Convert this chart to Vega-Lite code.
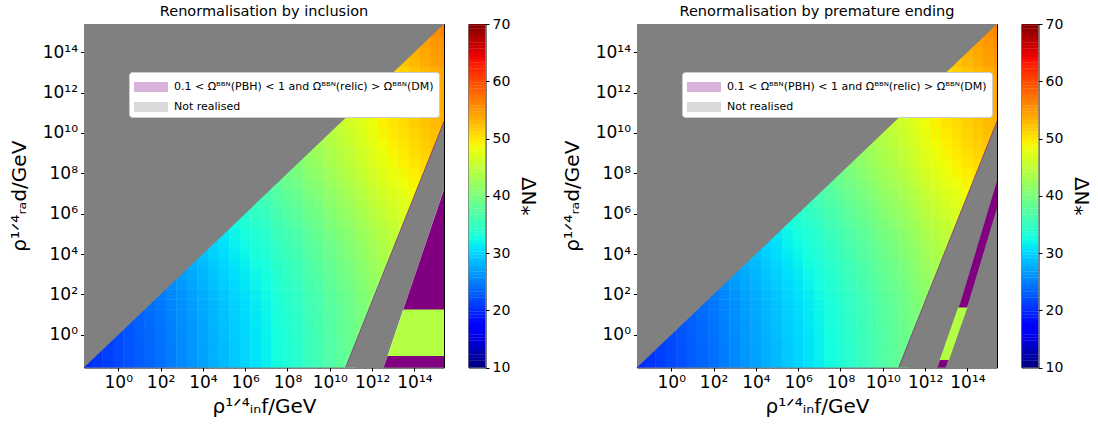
{
"$schema":"https://vega.github.io/schema/vega-lite/v6.json",
"background":"white",
"padding":{"left":8,"top":3,"right":5,"bottom":5},
"config":{"font":"DejaVu Sans","view":{"stroke":"#000000","strokeWidth":1},
"axis":{"grid":false,"domain":false,"ticks":true,"tickColor":"#000000","tickSize":3.5,"tickWidth":1,"labelColor":"#000000","titleColor":"#000000","labelFont":"DejaVu Sans","titleFont":"DejaVu Sans","labelFontSize":17,"titleFontSize":20,"titleFontWeight":"normal","labelPadding":3,"titlePadding":6},
"axisLeft":{"titlePadding":13},
"title":{"font":"DejaVu Sans","fontSize":14.5,"fontWeight":"normal","color":"#000000","offset":5}},
"datasets":{
"field":[
{"x":-1.5,"y":-1.5,"v":20},{"x":-1,"y":-1.5,"v":20.6},{"x":-0.5,"y":-1.5,"v":21.1},{"x":0,"y":-1.5,"v":21.7},{"x":0.5,"y":-1.5,"v":22.3},{"x":1,"y":-1.5,"v":22.9},{"x":1.5,"y":-1.5,"v":23.4},{"x":2,"y":-1.5,"v":24},{"x":2.5,"y":-1.5,"v":24.8},{"x":3,"y":-1.5,"v":25.5},{"x":3.5,"y":-1.5,"v":26.3},{"x":4,"y":-1.5,"v":27},{"x":4.5,"y":-1.5,"v":27.8},{"x":5,"y":-1.5,"v":28.5},{"x":5.5,"y":-1.5,"v":29.3},{"x":6,"y":-1.5,"v":30},{"x":6.5,"y":-1.5,"v":30.8},{"x":7,"y":-1.5,"v":31.5},{"x":7.5,"y":-1.5,"v":32.4},{"x":8,"y":-1.5,"v":33.3},{"x":8.5,"y":-1.5,"v":34.1},{"x":9,"y":-1.5,"v":35},{"x":9.5,"y":-1.5,"v":35.9},{"x":10,"y":-1.5,"v":36.8},{"x":10.5,"y":-1.5,"v":37.6},{"x":11,"y":-1.5,"v":38.5},
{"x":-1,"y":-1,"v":20.7},{"x":-0.5,"y":-1,"v":21.2},{"x":0,"y":-1,"v":21.8},{"x":0.5,"y":-1,"v":22.4},{"x":1,"y":-1,"v":23},{"x":1.5,"y":-1,"v":23.5},{"x":2,"y":-1,"v":24.1},{"x":2.5,"y":-1,"v":24.9},{"x":3,"y":-1,"v":25.6},{"x":3.5,"y":-1,"v":26.4},{"x":4,"y":-1,"v":27.1},{"x":4.5,"y":-1,"v":27.9},{"x":5,"y":-1,"v":28.6},{"x":5.5,"y":-1,"v":29.4},{"x":6,"y":-1,"v":30.1},{"x":6.5,"y":-1,"v":30.9},{"x":7,"y":-1,"v":31.6},{"x":7.5,"y":-1,"v":32.5},{"x":8,"y":-1,"v":33.4},{"x":8.5,"y":-1,"v":34.2},{"x":9,"y":-1,"v":35.1},{"x":9.5,"y":-1,"v":36},{"x":10,"y":-1,"v":36.9},{"x":10.5,"y":-1,"v":37.7},{"x":11,"y":-1,"v":38.6},
{"x":-0.5,"y":-0.5,"v":21.2},{"x":0,"y":-0.5,"v":21.8},{"x":0.5,"y":-0.5,"v":22.4},{"x":1,"y":-0.5,"v":23},{"x":1.5,"y":-0.5,"v":23.5},{"x":2,"y":-0.5,"v":24.1},{"x":2.5,"y":-0.5,"v":24.9},{"x":3,"y":-0.5,"v":25.6},{"x":3.5,"y":-0.5,"v":26.4},{"x":4,"y":-0.5,"v":27.1},{"x":4.5,"y":-0.5,"v":27.9},{"x":5,"y":-0.5,"v":28.6},{"x":5.5,"y":-0.5,"v":29.4},{"x":6,"y":-0.5,"v":30.1},{"x":6.5,"y":-0.5,"v":30.9},{"x":7,"y":-0.5,"v":31.6},{"x":7.5,"y":-0.5,"v":32.5},{"x":8,"y":-0.5,"v":33.4},{"x":8.5,"y":-0.5,"v":34.2},{"x":9,"y":-0.5,"v":35.1},{"x":9.5,"y":-0.5,"v":36},{"x":10,"y":-0.5,"v":36.9},{"x":10.5,"y":-0.5,"v":37.7},{"x":11,"y":-0.5,"v":38.6},{"x":11.5,"y":-0.5,"v":39.6},
{"x":0,"y":0,"v":21.9},{"x":0.5,"y":0,"v":22.5},{"x":1,"y":0,"v":23.1},{"x":1.5,"y":0,"v":23.6},{"x":2,"y":0,"v":24.2},{"x":2.5,"y":0,"v":25},{"x":3,"y":0,"v":25.7},{"x":3.5,"y":0,"v":26.5},{"x":4,"y":0,"v":27.2},{"x":4.5,"y":0,"v":28},{"x":5,"y":0,"v":28.7},{"x":5.5,"y":0,"v":29.5},{"x":6,"y":0,"v":30.2},{"x":6.5,"y":0,"v":31},{"x":7,"y":0,"v":31.7},{"x":7.5,"y":0,"v":32.6},{"x":8,"y":0,"v":33.5},{"x":8.5,"y":0,"v":34.3},{"x":9,"y":0,"v":35.2},{"x":9.5,"y":0,"v":36.1},{"x":10,"y":0,"v":37},{"x":10.5,"y":0,"v":37.8},{"x":11,"y":0,"v":38.7},{"x":11.5,"y":0,"v":39.7},
{"x":0.5,"y":0.5,"v":22.6},{"x":1,"y":0.5,"v":23.2},{"x":1.5,"y":0.5,"v":23.7},{"x":2,"y":0.5,"v":24.3},{"x":2.5,"y":0.5,"v":25.1},{"x":3,"y":0.5,"v":25.8},{"x":3.5,"y":0.5,"v":26.6},{"x":4,"y":0.5,"v":27.3},{"x":4.5,"y":0.5,"v":28.1},{"x":5,"y":0.5,"v":28.8},{"x":5.5,"y":0.5,"v":29.6},{"x":6,"y":0.5,"v":30.3},{"x":6.5,"y":0.5,"v":31.1},{"x":7,"y":0.5,"v":31.8},{"x":7.5,"y":0.5,"v":32.7},{"x":8,"y":0.5,"v":33.6},{"x":8.5,"y":0.5,"v":34.4},{"x":9,"y":0.5,"v":35.3},{"x":9.5,"y":0.5,"v":36.2},{"x":10,"y":0.5,"v":37.1},{"x":10.5,"y":0.5,"v":37.9},{"x":11,"y":0.5,"v":38.8},{"x":11.5,"y":0.5,"v":39.8},
{"x":1,"y":1,"v":23.3},{"x":1.5,"y":1,"v":23.8},{"x":2,"y":1,"v":24.4},{"x":2.5,"y":1,"v":25.2},{"x":3,"y":1,"v":25.9},{"x":3.5,"y":1,"v":26.7},{"x":4,"y":1,"v":27.4},{"x":4.5,"y":1,"v":28.2},{"x":5,"y":1,"v":28.9},{"x":5.5,"y":1,"v":29.7},{"x":6,"y":1,"v":30.4},{"x":6.5,"y":1,"v":31.2},{"x":7,"y":1,"v":31.9},{"x":7.5,"y":1,"v":32.8},{"x":8,"y":1,"v":33.7},{"x":8.5,"y":1,"v":34.5},{"x":9,"y":1,"v":35.4},{"x":9.5,"y":1,"v":36.3},{"x":10,"y":1,"v":37.2},{"x":10.5,"y":1,"v":38},{"x":11,"y":1,"v":38.9},{"x":11.5,"y":1,"v":39.9},{"x":12,"y":1,"v":40.9},
{"x":1.5,"y":1.5,"v":23.9},{"x":2,"y":1.5,"v":24.5},{"x":2.5,"y":1.5,"v":25.3},{"x":3,"y":1.5,"v":26},{"x":3.5,"y":1.5,"v":26.8},{"x":4,"y":1.5,"v":27.5},{"x":4.5,"y":1.5,"v":28.3},{"x":5,"y":1.5,"v":29},{"x":5.5,"y":1.5,"v":29.8},{"x":6,"y":1.5,"v":30.5},{"x":6.5,"y":1.5,"v":31.3},{"x":7,"y":1.5,"v":32},{"x":7.5,"y":1.5,"v":32.9},{"x":8,"y":1.5,"v":33.8},{"x":8.5,"y":1.5,"v":34.6},{"x":9,"y":1.5,"v":35.5},{"x":9.5,"y":1.5,"v":36.4},{"x":10,"y":1.5,"v":37.3},{"x":10.5,"y":1.5,"v":38.1},{"x":11,"y":1.5,"v":39},{"x":11.5,"y":1.5,"v":40},{"x":12,"y":1.5,"v":41},
{"x":2,"y":2,"v":24.7},{"x":2.5,"y":2,"v":25.5},{"x":3,"y":2,"v":26.2},{"x":3.5,"y":2,"v":27},{"x":4,"y":2,"v":27.7},{"x":4.5,"y":2,"v":28.5},{"x":5,"y":2,"v":29.2},{"x":5.5,"y":2,"v":30},{"x":6,"y":2,"v":30.7},{"x":6.5,"y":2,"v":31.5},{"x":7,"y":2,"v":32.2},{"x":7.5,"y":2,"v":33.1},{"x":8,"y":2,"v":34},{"x":8.5,"y":2,"v":34.8},{"x":9,"y":2,"v":35.7},{"x":9.5,"y":2,"v":36.6},{"x":10,"y":2,"v":37.5},{"x":10.5,"y":2,"v":38.3},{"x":11,"y":2,"v":39.2},{"x":11.5,"y":2,"v":40.2},{"x":12,"y":2,"v":41.2},
{"x":2.5,"y":2.5,"v":25.8},{"x":3,"y":2.5,"v":26.5},{"x":3.5,"y":2.5,"v":27.3},{"x":4,"y":2.5,"v":28},{"x":4.5,"y":2.5,"v":28.8},{"x":5,"y":2.5,"v":29.5},{"x":5.5,"y":2.5,"v":30.3},{"x":6,"y":2.5,"v":31},{"x":6.5,"y":2.5,"v":31.8},{"x":7,"y":2.5,"v":32.5},{"x":7.5,"y":2.5,"v":33.4},{"x":8,"y":2.5,"v":34.3},{"x":8.5,"y":2.5,"v":35.1},{"x":9,"y":2.5,"v":36},{"x":9.5,"y":2.5,"v":36.9},{"x":10,"y":2.5,"v":37.8},{"x":10.5,"y":2.5,"v":38.6},{"x":11,"y":2.5,"v":39.5},{"x":11.5,"y":2.5,"v":40.5},{"x":12,"y":2.5,"v":41.5},{"x":12.5,"y":2.5,"v":42.5},
{"x":3,"y":3,"v":26.8},{"x":3.5,"y":3,"v":27.6},{"x":4,"y":3,"v":28.3},{"x":4.5,"y":3,"v":29.1},{"x":5,"y":3,"v":29.8},{"x":5.5,"y":3,"v":30.6},{"x":6,"y":3,"v":31.3},{"x":6.5,"y":3,"v":32.1},{"x":7,"y":3,"v":32.8},{"x":7.5,"y":3,"v":33.7},{"x":8,"y":3,"v":34.6},{"x":8.5,"y":3,"v":35.4},{"x":9,"y":3,"v":36.3},{"x":9.5,"y":3,"v":37.2},{"x":10,"y":3,"v":38.1},{"x":10.5,"y":3,"v":38.9},{"x":11,"y":3,"v":39.8},{"x":11.5,"y":3,"v":40.8},{"x":12,"y":3,"v":41.8},{"x":12.5,"y":3,"v":42.8},
{"x":3.5,"y":3.5,"v":27.9},{"x":4,"y":3.5,"v":28.6},{"x":4.5,"y":3.5,"v":29.4},{"x":5,"y":3.5,"v":30.1},{"x":5.5,"y":3.5,"v":30.9},{"x":6,"y":3.5,"v":31.6},{"x":6.5,"y":3.5,"v":32.4},{"x":7,"y":3.5,"v":33.1},{"x":7.5,"y":3.5,"v":34},{"x":8,"y":3.5,"v":34.9},{"x":8.5,"y":3.5,"v":35.7},{"x":9,"y":3.5,"v":36.6},{"x":9.5,"y":3.5,"v":37.5},{"x":10,"y":3.5,"v":38.4},{"x":10.5,"y":3.5,"v":39.2},{"x":11,"y":3.5,"v":40.1},{"x":11.5,"y":3.5,"v":41.1},{"x":12,"y":3.5,"v":42.1},{"x":12.5,"y":3.5,"v":43.1},{"x":13,"y":3.5,"v":43.9},
{"x":4,"y":4,"v":29},{"x":4.5,"y":4,"v":29.8},{"x":5,"y":4,"v":30.5},{"x":5.5,"y":4,"v":31.3},{"x":6,"y":4,"v":32},{"x":6.5,"y":4,"v":32.8},{"x":7,"y":4,"v":33.5},{"x":7.5,"y":4,"v":34.4},{"x":8,"y":4,"v":35.3},{"x":8.5,"y":4,"v":36.1},{"x":9,"y":4,"v":37},{"x":9.5,"y":4,"v":37.9},{"x":10,"y":4,"v":38.8},{"x":10.5,"y":4,"v":39.6},{"x":11,"y":4,"v":40.5},{"x":11.5,"y":4,"v":41.5},{"x":12,"y":4,"v":42.5},{"x":12.5,"y":4,"v":43.5},{"x":13,"y":4,"v":44.3},
{"x":4.5,"y":4.5,"v":30.1},{"x":5,"y":4.5,"v":30.8},{"x":5.5,"y":4.5,"v":31.6},{"x":6,"y":4.5,"v":32.3},{"x":6.5,"y":4.5,"v":33.1},{"x":7,"y":4.5,"v":33.8},{"x":7.5,"y":4.5,"v":34.7},{"x":8,"y":4.5,"v":35.6},{"x":8.5,"y":4.5,"v":36.4},{"x":9,"y":4.5,"v":37.3},{"x":9.5,"y":4.5,"v":38.2},{"x":10,"y":4.5,"v":39.1},{"x":10.5,"y":4.5,"v":39.9},{"x":11,"y":4.5,"v":40.8},{"x":11.5,"y":4.5,"v":41.8},{"x":12,"y":4.5,"v":42.8},{"x":12.5,"y":4.5,"v":43.8},{"x":13,"y":4.5,"v":44.6},
{"x":5,"y":5,"v":31.2},{"x":5.5,"y":5,"v":32},{"x":6,"y":5,"v":32.7},{"x":6.5,"y":5,"v":33.5},{"x":7,"y":5,"v":34.2},{"x":7.5,"y":5,"v":35.1},{"x":8,"y":5,"v":36},{"x":8.5,"y":5,"v":36.8},{"x":9,"y":5,"v":37.7},{"x":9.5,"y":5,"v":38.6},{"x":10,"y":5,"v":39.5},{"x":10.5,"y":5,"v":40.3},{"x":11,"y":5,"v":41.2},{"x":11.5,"y":5,"v":42.2},{"x":12,"y":5,"v":43.2},{"x":12.5,"y":5,"v":44.2},{"x":13,"y":5,"v":45},{"x":13.5,"y":5,"v":45.7},
{"x":5.5,"y":5.5,"v":32.5},{"x":6,"y":5.5,"v":33.2},{"x":6.5,"y":5.5,"v":34},{"x":7,"y":5.5,"v":34.7},{"x":7.5,"y":5.5,"v":35.6},{"x":8,"y":5.5,"v":36.5},{"x":8.5,"y":5.5,"v":37.3},{"x":9,"y":5.5,"v":38.2},{"x":9.5,"y":5.5,"v":39.1},{"x":10,"y":5.5,"v":40},{"x":10.5,"y":5.5,"v":40.8},{"x":11,"y":5.5,"v":41.7},{"x":11.5,"y":5.5,"v":42.7},{"x":12,"y":5.5,"v":43.7},{"x":12.5,"y":5.5,"v":44.7},{"x":13,"y":5.5,"v":45.5},{"x":13.5,"y":5.5,"v":46.2},
{"x":6,"y":6,"v":33.7},{"x":6.5,"y":6,"v":34.5},{"x":7,"y":6,"v":35.2},{"x":7.5,"y":6,"v":36.1},{"x":8,"y":6,"v":37},{"x":8.5,"y":6,"v":37.8},{"x":9,"y":6,"v":38.7},{"x":9.5,"y":6,"v":39.6},{"x":10,"y":6,"v":40.5},{"x":10.5,"y":6,"v":41.3},{"x":11,"y":6,"v":42.2},{"x":11.5,"y":6,"v":43.2},{"x":12,"y":6,"v":44.2},{"x":12.5,"y":6,"v":45.2},{"x":13,"y":6,"v":46},{"x":13.5,"y":6,"v":46.7},{"x":14,"y":6,"v":47.4},
{"x":6.5,"y":6.5,"v":35},{"x":7,"y":6.5,"v":35.7},{"x":7.5,"y":6.5,"v":36.6},{"x":8,"y":6.5,"v":37.5},{"x":8.5,"y":6.5,"v":38.3},{"x":9,"y":6.5,"v":39.2},{"x":9.5,"y":6.5,"v":40.1},{"x":10,"y":6.5,"v":41},{"x":10.5,"y":6.5,"v":41.8},{"x":11,"y":6.5,"v":42.7},{"x":11.5,"y":6.5,"v":43.7},{"x":12,"y":6.5,"v":44.7},{"x":12.5,"y":6.5,"v":45.7},{"x":13,"y":6.5,"v":46.5},{"x":13.5,"y":6.5,"v":47.2},{"x":14,"y":6.5,"v":47.9},
{"x":7,"y":7,"v":36.2},{"x":7.5,"y":7,"v":37.1},{"x":8,"y":7,"v":38},{"x":8.5,"y":7,"v":38.8},{"x":9,"y":7,"v":39.7},{"x":9.5,"y":7,"v":40.6},{"x":10,"y":7,"v":41.5},{"x":10.5,"y":7,"v":42.3},{"x":11,"y":7,"v":43.2},{"x":11.5,"y":7,"v":44.2},{"x":12,"y":7,"v":45.2},{"x":12.5,"y":7,"v":46.2},{"x":13,"y":7,"v":47},{"x":13.5,"y":7,"v":47.7},{"x":14,"y":7,"v":48.4},
{"x":7.5,"y":7.5,"v":37.7},{"x":8,"y":7.5,"v":38.6},{"x":8.5,"y":7.5,"v":39.4},{"x":9,"y":7.5,"v":40.3},{"x":9.5,"y":7.5,"v":41.2},{"x":10,"y":7.5,"v":42.1},{"x":10.5,"y":7.5,"v":42.9},{"x":11,"y":7.5,"v":43.8},{"x":11.5,"y":7.5,"v":44.8},{"x":12,"y":7.5,"v":45.8},{"x":12.5,"y":7.5,"v":46.8},{"x":13,"y":7.5,"v":47.6},{"x":13.5,"y":7.5,"v":48.3},{"x":14,"y":7.5,"v":49},{"x":14.5,"y":7.5,"v":49.7},
{"x":8,"y":8,"v":39.1},{"x":8.5,"y":8,"v":39.9},{"x":9,"y":8,"v":40.8},{"x":9.5,"y":8,"v":41.7},{"x":10,"y":8,"v":42.6},{"x":10.5,"y":8,"v":43.4},{"x":11,"y":8,"v":44.3},{"x":11.5,"y":8,"v":45.3},{"x":12,"y":8,"v":46.3},{"x":12.5,"y":8,"v":47.3},{"x":13,"y":8,"v":48.1},{"x":13.5,"y":8,"v":48.8},{"x":14,"y":8,"v":49.5},{"x":14.5,"y":8,"v":50.2},
{"x":8.5,"y":8.5,"v":40.4},{"x":9,"y":8.5,"v":41.3},{"x":9.5,"y":8.5,"v":42.2},{"x":10,"y":8.5,"v":43.1},{"x":10.5,"y":8.5,"v":43.9},{"x":11,"y":8.5,"v":44.8},{"x":11.5,"y":8.5,"v":45.8},{"x":12,"y":8.5,"v":46.8},{"x":12.5,"y":8.5,"v":47.8},{"x":13,"y":8.5,"v":48.6},{"x":13.5,"y":8.5,"v":49.3},{"x":14,"y":8.5,"v":50},{"x":14.5,"y":8.5,"v":50.7},
{"x":9,"y":9,"v":41.7},{"x":9.5,"y":9,"v":42.6},{"x":10,"y":9,"v":43.5},{"x":10.5,"y":9,"v":44.3},{"x":11,"y":9,"v":45.2},{"x":11.5,"y":9,"v":46.2},{"x":12,"y":9,"v":47.2},{"x":12.5,"y":9,"v":48.2},{"x":13,"y":9,"v":49},{"x":13.5,"y":9,"v":49.7},{"x":14,"y":9,"v":50.4},{"x":14.5,"y":9,"v":51.1},{"x":15,"y":9,"v":51.8},
{"x":9.5,"y":9.5,"v":43},{"x":10,"y":9.5,"v":43.9},{"x":10.5,"y":9.5,"v":44.7},{"x":11,"y":9.5,"v":45.6},{"x":11.5,"y":9.5,"v":46.6},{"x":12,"y":9.5,"v":47.6},{"x":12.5,"y":9.5,"v":48.6},{"x":13,"y":9.5,"v":49.4},{"x":13.5,"y":9.5,"v":50.1},{"x":14,"y":9.5,"v":50.8},{"x":14.5,"y":9.5,"v":51.5},{"x":15,"y":9.5,"v":52.2},
{"x":10,"y":10,"v":44.2},{"x":10.5,"y":10,"v":45},{"x":11,"y":10,"v":45.9},{"x":11.5,"y":10,"v":46.9},{"x":12,"y":10,"v":47.9},{"x":12.5,"y":10,"v":48.9},{"x":13,"y":10,"v":49.7},{"x":13.5,"y":10,"v":50.4},{"x":14,"y":10,"v":51.1},{"x":14.5,"y":10,"v":51.8},{"x":15,"y":10,"v":52.5},{"x":15.5,"y":10,"v":53.2},
{"x":10.5,"y":10.5,"v":45.3},{"x":11,"y":10.5,"v":46.2},{"x":11.5,"y":10.5,"v":47.2},{"x":12,"y":10.5,"v":48.2},{"x":12.5,"y":10.5,"v":49.2},{"x":13,"y":10.5,"v":50},{"x":13.5,"y":10.5,"v":50.7},{"x":14,"y":10.5,"v":51.4},{"x":14.5,"y":10.5,"v":52.1},{"x":15,"y":10.5,"v":52.8},{"x":15.5,"y":10.5,"v":53.5},
{"x":11,"y":11,"v":46.3},{"x":11.5,"y":11,"v":47.3},{"x":12,"y":11,"v":48.3},{"x":12.5,"y":11,"v":49.3},{"x":13,"y":11,"v":50.1},{"x":13.5,"y":11,"v":50.8},{"x":14,"y":11,"v":51.5},{"x":14.5,"y":11,"v":52.2},{"x":15,"y":11,"v":52.9},{"x":15.5,"y":11,"v":53.6},
{"x":11.5,"y":11.5,"v":47.5},{"x":12,"y":11.5,"v":48.5},{"x":12.5,"y":11.5,"v":49.5},{"x":13,"y":11.5,"v":50.3},{"x":13.5,"y":11.5,"v":51},{"x":14,"y":11.5,"v":51.7},{"x":14.5,"y":11.5,"v":52.4},{"x":15,"y":11.5,"v":53.1},{"x":15.5,"y":11.5,"v":53.8},
{"x":12,"y":12,"v":48.5},{"x":12.5,"y":12,"v":49.5},{"x":13,"y":12,"v":50.3},{"x":13.5,"y":12,"v":51},{"x":14,"y":12,"v":51.7},{"x":14.5,"y":12,"v":52.4},{"x":15,"y":12,"v":53.1},{"x":15.5,"y":12,"v":53.8},
{"x":12.5,"y":12.5,"v":49.7},{"x":13,"y":12.5,"v":50.5},{"x":13.5,"y":12.5,"v":51.2},{"x":14,"y":12.5,"v":51.9},{"x":14.5,"y":12.5,"v":52.6},{"x":15,"y":12.5,"v":53.3},{"x":15.5,"y":12.5,"v":54},
{"x":13,"y":13,"v":50.7},{"x":13.5,"y":13,"v":51.4},{"x":14,"y":13,"v":52.1},{"x":14.5,"y":13,"v":52.8},{"x":15,"y":13,"v":53.5},{"x":15.5,"y":13,"v":54.2},
{"x":13.5,"y":13.5,"v":52.2},{"x":14,"y":13.5,"v":52.9},{"x":14.5,"y":13.5,"v":53.6},{"x":15,"y":13.5,"v":54.3},{"x":15.5,"y":13.5,"v":55},
{"x":14,"y":14,"v":53.2},{"x":14.5,"y":14,"v":53.9},{"x":15,"y":14,"v":54.6},{"x":15.5,"y":14,"v":55.3},
{"x":14.5,"y":14.5,"v":54.3},{"x":15,"y":14.5,"v":55},{"x":15.5,"y":14.5,"v":55.7},
{"x":15,"y":15,"v":55.5},{"x":15.5,"y":15,"v":56.2},
{"x":15.5,"y":15.5,"v":56.6}
],
"cb":[
{"v":10},{"v":10.5},{"v":11},{"v":11.5},{"v":12},{"v":12.5},{"v":13},{"v":13.5},{"v":14},{"v":14.5},{"v":15},{"v":15.5},{"v":16},{"v":16.5},{"v":17},{"v":17.5},{"v":18},{"v":18.5},{"v":19},{"v":19.5},
{"v":20},{"v":20.5},{"v":21},{"v":21.5},{"v":22},{"v":22.5},{"v":23},{"v":23.5},{"v":24},{"v":24.5},{"v":25},{"v":25.5},{"v":26},{"v":26.5},{"v":27},{"v":27.5},{"v":28},{"v":28.5},{"v":29},{"v":29.5},
{"v":30},{"v":30.5},{"v":31},{"v":31.5},{"v":32},{"v":32.5},{"v":33},{"v":33.5},{"v":34},{"v":34.5},{"v":35},{"v":35.5},{"v":36},{"v":36.5},{"v":37},{"v":37.5},{"v":38},{"v":38.5},{"v":39},{"v":39.5},
{"v":40},{"v":40.5},{"v":41},{"v":41.5},{"v":42},{"v":42.5},{"v":43},{"v":43.5},{"v":44},{"v":44.5},{"v":45},{"v":45.5},{"v":46},{"v":46.5},{"v":47},{"v":47.5},{"v":48},{"v":48.5},{"v":49},{"v":49.5},
{"v":50},{"v":50.5},{"v":51},{"v":51.5},{"v":52},{"v":52.5},{"v":53},{"v":53.5},{"v":54},{"v":54.5},{"v":55},{"v":55.5},{"v":56},{"v":56.5},{"v":57},{"v":57.5},{"v":58},{"v":58.5},{"v":59},{"v":59.5},
{"v":60},{"v":60.5},{"v":61},{"v":61.5},{"v":62},{"v":62.5},{"v":63},{"v":63.5},{"v":64},{"v":64.5},{"v":65},{"v":65.5},{"v":66},{"v":66.5},{"v":67},{"v":67.5},{"v":68},{"v":68.5},{"v":69},{"v":69.5},{"v":70}
]
},
"spacing":22,
"resolve":{"scale":{"fill":"independent","x":"independent","y":"independent"},"legend":{"fill":"independent"}},
"hconcat":[
{"spacing":22.5,"resolve":{"scale":{"x":"independent","y":"independent"}},
"hconcat":[
{"title":"Renormalisation by inclusion","width":360,"height":343.5,
"encoding":{
"x":{"field":"x","type":"quantitative","stack":null,"scale":{"domain":[-1.62,15.4],"nice":false,"zero":false},"axis":{"values":[0,2,4,6,8,10,12,14],"labelExpr":"datum.value==0?'10⁰':datum.value==2?'10²':datum.value==4?'10⁴':datum.value==6?'10⁶':datum.value==8?'10⁸':datum.value==10?'10¹⁰':datum.value==12?'10¹²':'10¹⁴'","title":"ρ¹ᐟ⁴ᵢₙf/GeV"}},
"y":{"field":"y","type":"quantitative","stack":null,"scale":{"domain":[-1.62,15.4],"nice":false,"zero":false},"axis":{"values":[0,2,4,6,8,10,12,14],"labelExpr":"datum.value==0?'10⁰':datum.value==2?'10²':datum.value==4?'10⁴':datum.value==6?'10⁶':datum.value==8?'10⁸':datum.value==10?'10¹⁰':datum.value==12?'10¹²':'10¹⁴'","title":"ρ¹ᐟ⁴ᵣₐd/GeV"}}
},
"layer":[
{"data":{"name":"field"},"mark":{"type":"rect","width":11,"height":10.6,"clip":true},
"encoding":{"color":{"field":"v","type":"quantitative","scale":{"type":"linear","domain":[10,16.6,17.5,30.4,31,32.5,48.4,49,49.6,63.4,64.6,70],"range":["#00007f","#0000ff","#0000ff","#00dbff","#00e6f7","#14ffe2","#eeff08","#f7f500","#ffec00","#ff1300","#e80000","#800000"],"interpolate":"rgb"},"legend":null}}},
{"data":{"values":[{"x":-1.7,"y":-1.7,"y2":15.5,"cat":"Not realised"},{"x":15.5,"y":15.5,"y2":15.5,"cat":"Not realised"}]},"mark":{"type":"area","orient":"vertical","clip":true},
"encoding":{"y2":{"field":"y2"},"fill":{"field":"cat","type":"nominal","scale":{"domain":["0.1 < Ωᴮᴮᴺ(PBH) < 1 and Ωᴮᴮᴺ(relic) > Ωᴮᴮᴺ(DM)","Not realised"],"range":["#800080","#808080"]},"legend":{"orient":"none","legendX":45,"legendY":48,"direction":"vertical","title":null,"fillColor":"#ffffff","strokeColor":"#cccccc","cornerRadius":3,"padding":5,"symbolType":"M-1,-0.5H2.4V0.5H-1Z","symbolSize":400,"symbolOpacity":0.3,"symbolStrokeWidth":0,"labelFontSize":11,"labelFont":"DejaVu Sans","labelColor":"#000000","labelOffset":20,"rowPadding":5,"labelLimit":500}}}},
{"data":{"values":[{"y":-1.7,"x":10.72,"x2":12.52,"cat":"Not realised"},{"y":15.5,"x":17.28,"x2":18.07,"cat":"Not realised"}]},"mark":{"type":"area","orient":"horizontal","clip":true},
"encoding":{"x2":{"field":"x2"},"fill":{"field":"cat","type":"nominal"}}},
{"data":{"values":[{"x":10.75,"y":-1.62},{"x":17.28,"y":15.5}]},"mark":{"type":"line","clip":true,"color":"#800080","strokeWidth":1,"opacity":0.6},"encoding":{}},
{"data":{"values":[{"piece":"a","y":-1.7,"x":12.52,"x2":16,"cat":"0.1 < Ωᴮᴮᴺ(PBH) < 1 and Ωᴮᴮᴺ(relic) > Ωᴮᴮᴺ(DM)"},{"piece":"a","y":-1.0,"x":12.75,"x2":16,"cat":"0.1 < Ωᴮᴮᴺ(PBH) < 1 and Ωᴮᴮᴺ(relic) > Ωᴮᴮᴺ(DM)"},{"piece":"b","y":1.2,"x":13.46,"x2":16,"cat":"0.1 < Ωᴮᴮᴺ(PBH) < 1 and Ωᴮᴮᴺ(relic) > Ωᴮᴮᴺ(DM)"},{"piece":"b","y":9,"x":15.98,"x2":16,"cat":"0.1 < Ωᴮᴮᴺ(PBH) < 1 and Ωᴮᴮᴺ(relic) > Ωᴮᴮᴺ(DM)"}]},"mark":{"type":"area","orient":"horizontal","clip":true},
"encoding":{"x2":{"field":"x2"},"fill":{"field":"cat","type":"nominal"},"detail":{"field":"piece"}}},
{"data":{"values":[{"y":-1.05,"x":12.73,"x2":16,"v":44},{"y":1.25,"x":13.48,"x2":16,"v":44}]},"mark":{"type":"area","orient":"horizontal","clip":true},
"encoding":{"x2":{"field":"x2"},"color":{"field":"v","type":"quantitative","legend":null}}}
]},
{"width":17,"height":343.5,"data":{"name":"cb"},"mark":{"type":"rect","height":3.2,"clip":true},
"encoding":{"y":{"field":"v","type":"quantitative","scale":{"domain":[10,70],"nice":false,"zero":false},"axis":{"orient":"right","values":[10,20,30,40,50,60,70],"labelFontSize":14,"title":"ΔN⁎","titleFontSize":20,"titlePadding":8}},
"color":{"field":"v","type":"quantitative","legend":null}}}
]},
{"spacing":22.5,"resolve":{"scale":{"x":"independent","y":"independent"}},
"hconcat":[
{"title":"Renormalisation by premature ending","width":360,"height":343.5,
"encoding":{
"x":{"field":"x","type":"quantitative","stack":null,"scale":{"domain":[-1.62,15.4],"nice":false,"zero":false},"axis":{"values":[0,2,4,6,8,10,12,14],"labelExpr":"datum.value==0?'10⁰':datum.value==2?'10²':datum.value==4?'10⁴':datum.value==6?'10⁶':datum.value==8?'10⁸':datum.value==10?'10¹⁰':datum.value==12?'10¹²':'10¹⁴'","title":"ρ¹ᐟ⁴ᵢₙf/GeV"}},
"y":{"field":"y","type":"quantitative","stack":null,"scale":{"domain":[-1.62,15.4],"nice":false,"zero":false},"axis":{"values":[0,2,4,6,8,10,12,14],"labelExpr":"datum.value==0?'10⁰':datum.value==2?'10²':datum.value==4?'10⁴':datum.value==6?'10⁶':datum.value==8?'10⁸':datum.value==10?'10¹⁰':datum.value==12?'10¹²':'10¹⁴'","title":"ρ¹ᐟ⁴ᵣₐd/GeV"}}
},
"layer":[
{"data":{"name":"field"},"mark":{"type":"rect","width":11,"height":10.6,"clip":true},
"encoding":{"color":{"field":"v","type":"quantitative","legend":null}}},
{"data":{"values":[{"x":-1.7,"y":-1.7,"y2":15.5,"cat":"Not realised"},{"x":15.5,"y":15.5,"y2":15.5,"cat":"Not realised"}]},"mark":{"type":"area","orient":"vertical","clip":true},
"encoding":{"y2":{"field":"y2"},"fill":{"field":"cat","type":"nominal","scale":{"domain":["0.1 < Ωᴮᴮᴺ(PBH) < 1 and Ωᴮᴮᴺ(relic) > Ωᴮᴮᴺ(DM)","Not realised"],"range":["#800080","#808080"]},"legend":{"orient":"none","legendX":45,"legendY":48,"direction":"vertical","title":null,"fillColor":"#ffffff","strokeColor":"#cccccc","cornerRadius":3,"padding":5,"symbolType":"M-1,-0.5H2.4V0.5H-1Z","symbolSize":400,"symbolOpacity":0.3,"symbolStrokeWidth":0,"labelFontSize":11,"labelFont":"DejaVu Sans","labelColor":"#000000","labelOffset":20,"rowPadding":5,"labelLimit":500}}}},
{"data":{"values":[{"y":-1.7,"x":10.72,"x2":20,"cat":"Not realised"},{"y":15.5,"x":17.28,"x2":20,"cat":"Not realised"}]},"mark":{"type":"area","orient":"horizontal","clip":true},
"encoding":{"x2":{"field":"x2"},"fill":{"field":"cat","type":"nominal"}}},
{"data":{"values":[{"x":10.75,"y":-1.62},{"x":17.28,"y":15.5}]},"mark":{"type":"line","clip":true,"color":"#800080","strokeWidth":1,"opacity":0.6},"encoding":{}},
{"data":{"values":[{"piece":"a","y":-1.7,"x":12.56,"x2":12.94,"cat":"0.1 < Ωᴮᴮᴺ(PBH) < 1 and Ωᴮᴮᴺ(relic) > Ωᴮᴮᴺ(DM)"},{"piece":"a","y":-1.2,"x":12.73,"x2":13.11,"cat":"0.1 < Ωᴮᴮᴺ(PBH) < 1 and Ωᴮᴮᴺ(relic) > Ωᴮᴮᴺ(DM)"},{"piece":"b","y":1.3,"x":13.57,"x2":13.95,"cat":"0.1 < Ωᴮᴮᴺ(PBH) < 1 and Ωᴮᴮᴺ(relic) > Ωᴮᴮᴺ(DM)"},{"piece":"b","y":1.65,"x":13.69,"x2":14.07,"cat":"0.1 < Ωᴮᴮᴺ(PBH) < 1 and Ωᴮᴮᴺ(relic) > Ωᴮᴮᴺ(DM)"},{"piece":"b","y":8,"x":15.51,"x2":15.89,"cat":"0.1 < Ωᴮᴮᴺ(PBH) < 1 and Ωᴮᴮᴺ(relic) > Ωᴮᴮᴺ(DM)"}]},"mark":{"type":"area","orient":"horizontal","clip":true},
"encoding":{"x2":{"field":"x2"},"fill":{"field":"cat","type":"nominal"},"detail":{"field":"piece"}}},
{"data":{"values":[{"y":-1.25,"x":12.69,"x2":13.13,"v":44},{"y":1.35,"x":13.56,"x2":14.0,"v":44}]},"mark":{"type":"area","orient":"horizontal","clip":true},
"encoding":{"x2":{"field":"x2"},"color":{"field":"v","type":"quantitative","legend":null}}}
]},
{"width":17,"height":343.5,"data":{"name":"cb"},"mark":{"type":"rect","height":3.2,"clip":true},
"encoding":{"y":{"field":"v","type":"quantitative","scale":{"domain":[10,70],"nice":false,"zero":false},"axis":{"orient":"right","values":[10,20,30,40,50,60,70],"labelFontSize":14,"title":"ΔN⁎","titleFontSize":20,"titlePadding":8}},
"color":{"field":"v","type":"quantitative","legend":null}}}
]}
]
}
